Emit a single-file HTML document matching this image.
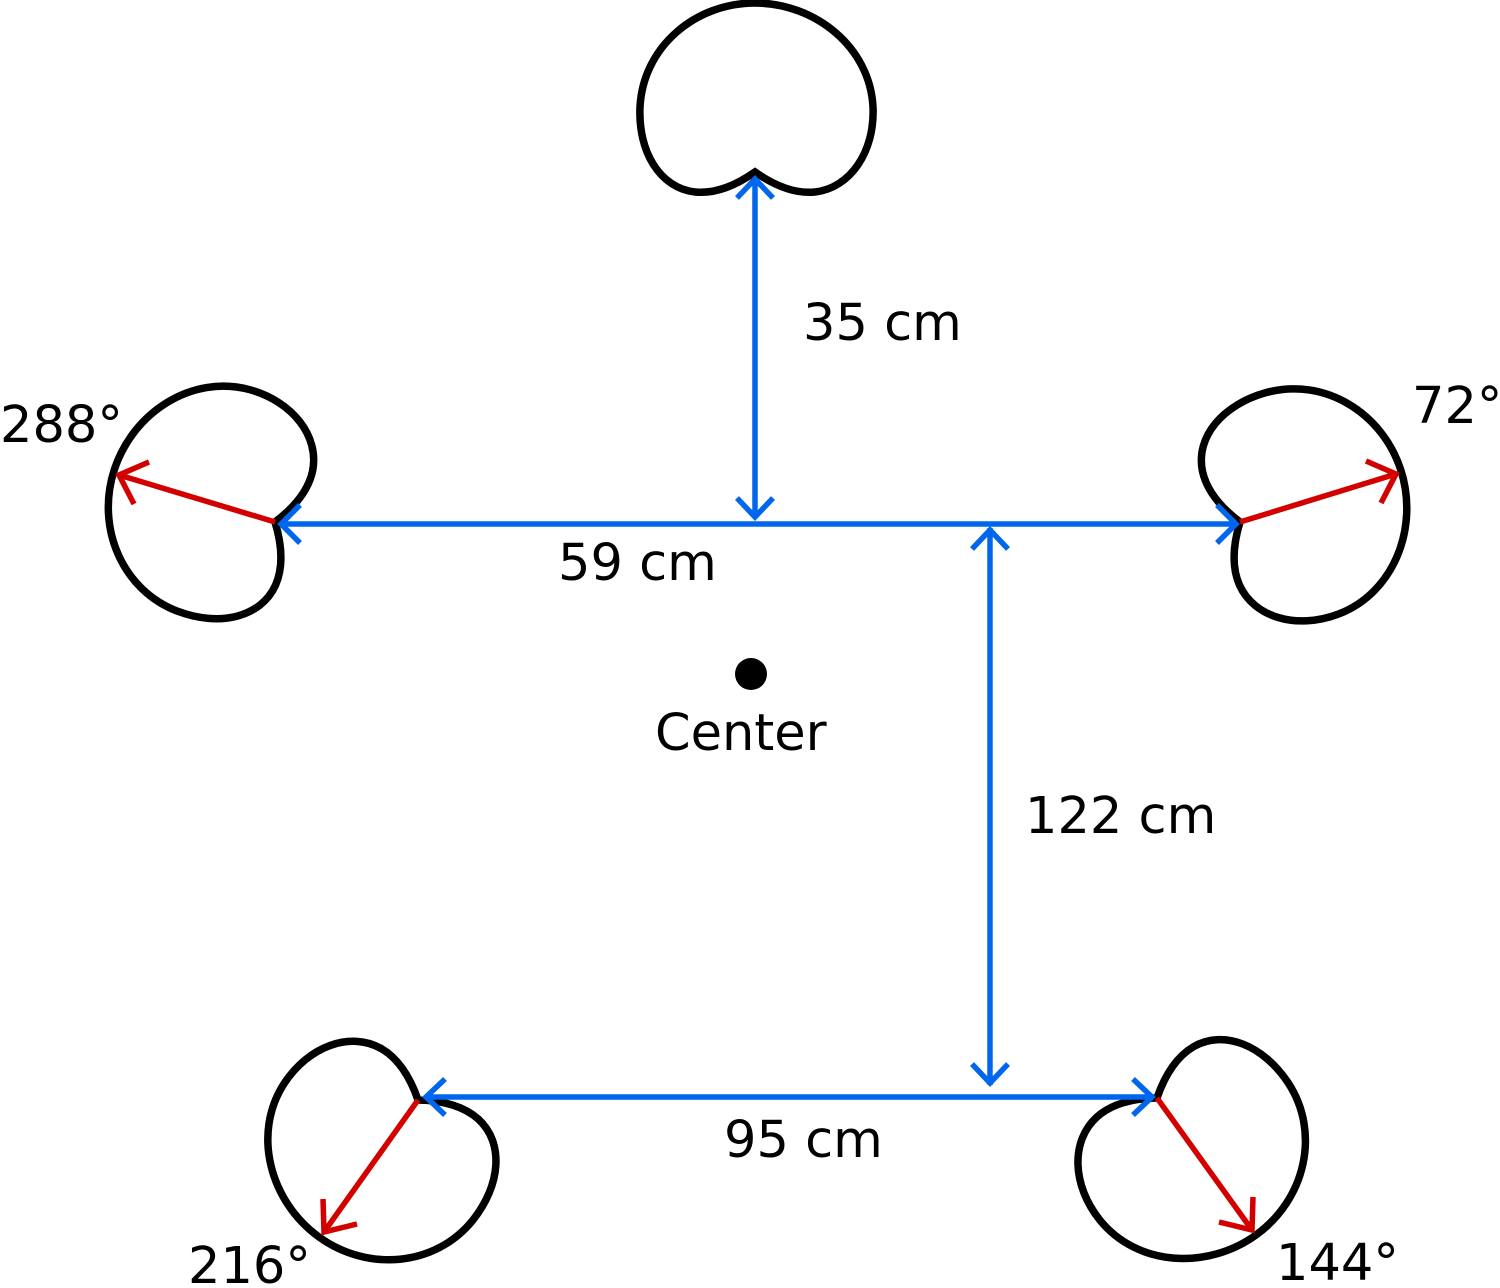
<!DOCTYPE html>
<html><head><style>body{margin:0;background:#fff}svg{display:block}text{font-family:"DejaVu Sans","Liberation Sans",sans-serif;font-size:51px;fill:#000}</style></head>
<body>
<svg width="1500" height="1288" viewBox="0 0 1500 1288" xmlns="http://www.w3.org/2000/svg">
<defs>
<path id="c" d="M0,0 C-20,14 -40,22 -60,20 C-95,16 -117,-20 -115,-65 C-112,-125 -60,-169 0,-169 C60,-169 115,-125 118,-65 C120,-20 95,16 60,20 C40,22 20,14 0,0 Z" fill="none" stroke="#000" stroke-width="7.5"/>
</defs>
<use href="#c" transform="translate(755,172)"/>
<use href="#c" transform="translate(1240,522) rotate(72)"/>
<use href="#c" transform="translate(275,522) rotate(-72)"/>
<use href="#c" transform="translate(1157,1098) rotate(144)"/>
<use href="#c" transform="translate(418,1100) rotate(216)"/>
<g stroke="#0066ee" stroke-width="5.5" fill="none">
<line x1="280" y1="524" x2="1237" y2="524"/>
<polyline points="300,505 281,524 300,543"/><polyline points="1217,505 1236,524 1217,543"/>
<line x1="755" y1="178" x2="755" y2="518"/>
<polyline points="737,198 755,179 773,198"/><polyline points="737,498 755,517 773,498"/>
<line x1="990" y1="528" x2="990" y2="1085"/>
<polyline points="972,549 990,530 1008,549"/><polyline points="972,1064 990,1083 1008,1064"/>
<line x1="425" y1="1097" x2="1153" y2="1097"/>
<polyline points="445,1079 426,1097 445,1115"/><polyline points="1133,1079 1152,1097 1133,1115"/>
</g>
<g stroke="#d40000" stroke-width="5.5" fill="none">
<line x1="1240" y1="522" x2="1396" y2="474"/><polyline points="1366,461 1396,474 1381,503"/>
<line x1="275" y1="522" x2="119" y2="475"/><polyline points="149,462 119,475 134,504"/>
<line x1="1157" y1="1098" x2="1252" y2="1230"/><polyline points="1253,1197 1252,1230 1219,1222"/>
<line x1="418" y1="1100" x2="324" y2="1232"/><polyline points="323,1199 324,1232 357,1224"/>
</g>
<circle cx="751" cy="674" r="16" fill="#000"/>
<text x="803" y="340">35 cm</text>
<text x="558" y="580">59 cm</text>
<text x="655" y="750">Center</text>
<text x="1025" y="833">122 cm</text>
<text x="724" y="1157">95 cm</text>
<text x="0" y="442">288°</text>
<text x="1412" y="423">72°</text>
<text x="188" y="1283">216°</text>
<text x="1276" y="1280">144°</text>
</svg>
</body></html>
